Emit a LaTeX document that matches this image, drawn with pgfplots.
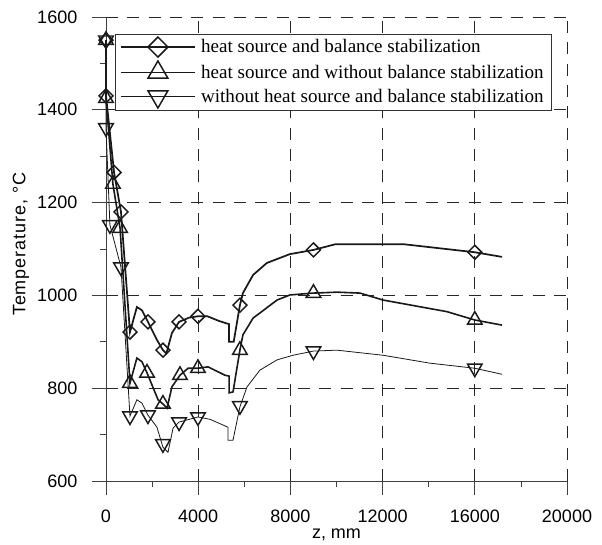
\documentclass[border=0pt]{standalone}
\usepackage{fontspec}
\setmainfont{Liberation Sans}
\newfontfamily\seriffont{Liberation Serif}
\newfontfamily\spacedfont[LetterSpace=5]{Liberation Sans}
\usepackage{pgfplots}
\pgfplotsset{compat=1.18}
\begin{document}
\begin{tikzpicture}
\useasboundingbox (-79.5pt,-47.25pt) rectangle (372pt,360.75pt);
\begin{axis}[
  at={(0pt,0pt)}, anchor=south west,
  scale only axis, width=345.75pt, height=348pt,
  xmin=0, xmax=20000, ymin=600, ymax=1600,
  axis lines=left, axis line style={-, black!75, line width=0.6pt},
  xtick={0,4000,...,20000}, ytick={600,800,...,1600},
  minor x tick num=1, minor y tick num=1,
  tick align=outside, major tick length=10.5pt, minor tick length=4.5pt,
  tick style={black!75, line width=0.6pt},
  grid=major, grid style={black!85, line width=0.5pt, dash pattern=on 9pt off 7pt},
  ticklabel style={font=\fontsize{13.5}{16}\selectfont},
  xticklabel style={yshift=-7.5pt},
  yticklabel style={xshift=-7.5pt},
  /pgf/number format/assume math mode=true,
  /pgf/number format/1000 sep={},
  scaled x ticks=false,
  xlabel={z, mm}, ylabel={\spacedfont Temperature, °C},
  xlabel style={font=\fontsize{13.5}{16}\selectfont, at={(axis description cs:0.5,-0.117)}, anchor=center},
  ylabel style={font=\fontsize{13.5}{16}\selectfont, at={(axis description cs:-0.1844,0.51)}, anchor=center},
  clip=false,
  legend style={at={(axis description cs:0.0195,0.964)}, anchor=north west,
    font=\seriffont\fontsize{14.3}{16}\selectfont, draw=black!80, line width=0.6pt,
    inner xsep=3.5pt, inner ysep=2pt, row sep=2.7pt, column sep=2pt},
  legend cell align=left,
  legend image code/.code={
    \draw[#1, mark repeat=2, mark phase=2] plot coordinates {(0pt,0pt) (27.75pt,0pt) (55.5pt,0pt)};
  },
]
\addlegendimage{black!90, line width=1.3pt, mark=square, mark size=5.3pt, mark options={rotate=45, fill=white, line width=1.1pt}}
\addlegendentry{heat source and balance stabilization}
\addlegendimage{black!90, line width=1.2pt, mark=triangle, mark size=8.6pt, mark options={fill=white, line width=1.1pt}}
\addlegendentry{heat source and without balance stabilization}
\addlegendimage{black!90, line width=0.6pt, mark=triangle, mark size=8.6pt, mark options={rotate=180, fill=white, line width=1.1pt}}
\addlegendentry{without heat source and balance stabilization}

% series 3 line
\addplot[black!90, line width=0.6pt, forget plot] coordinates {
(0,1550) (0,1361) (170,1152) (650,1061) (1040,740) (1340,775) (1560,768) (1820,742)
(2210,716) (2470,673) (2690,662) (2910,714) (3170,727) (3990,738) (4510,733) (5290,716)
(5290,688) (5510,688) (5810,760) (6120,803) (6680,839) (7420,861) (8110,871) (9000,880)
(10020,882) (12020,871) (14050,854) (16000,843) (17180,830)};
% series 2 line
\addplot[black!90, line width=1.2pt, forget plot] coordinates {
(0,1550) (0,1425) (300,1240) (610,1145) (1040,811) (1340,865) (1560,857) (1780,833)
(2260,775) (2470,766) (2650,757) (2860,803) (3210,828) (3560,843) (3990,843) (4430,846)
(5160,828) (5340,826) (5340,790) (5510,792) (5810,882) (5940,915) (6380,951) (7420,990)
(7980,1001) (9000,1005) (10020,1007) (11020,1005) (12020,990) (14790,965) (16000,947) (17180,936)};
% series 1 line
\addplot[black!90, line width=1.3pt, forget plot] coordinates {
(0,1550) (0,1430) (350,1265) (650,1180) (1040,921) (1340,975) (1560,968) (1820,943)
(2200,905) (2470,882) (2620,875) (2860,919) (3170,943) (3600,952) (3990,955) (4400,955)
(4900,945) (5340,938) (5340,900) (5540,900) (5810,979) (5940,1005) (6380,1044) (6980,1070)
(7980,1089) (9000,1098) (9930,1110) (12970,1110) (16000,1093) (17180,1083)};

% markers
\addplot[only marks, forget plot, black!90, mark=triangle, mark size=6.3pt, mark options={rotate=180, fill=white, line width=1.1pt}] coordinates {
(0,1550) (0,1361) (170,1152) (650,1061) (1040,740) (1820,742) (2470,680) (3170,727) (3990,738) (5810,762) (9000,880) (16000,843)};
\addplot[only marks, forget plot, black!90, mark=triangle, mark size=6.3pt, mark options={fill=white, line width=1.1pt}] coordinates {
(0,1550) (0,1425) (300,1240) (610,1145) (1040,811) (1780,833) (2470,766) (3210,828) (3990,843) (5810,882) (9000,1005) (16000,947)};
\addplot[only marks, forget plot, black!90, mark=square, mark size=3.7pt, mark options={rotate=45, fill=white, line width=1.1pt}] coordinates {
(0,1550) (0,1430) (350,1265) (650,1180) (1040,921) (1820,943) (2470,882) (3170,943) (3990,955) (5810,979) (9000,1098) (16000,1093)};
\end{axis}
\end{tikzpicture}
\end{document}
